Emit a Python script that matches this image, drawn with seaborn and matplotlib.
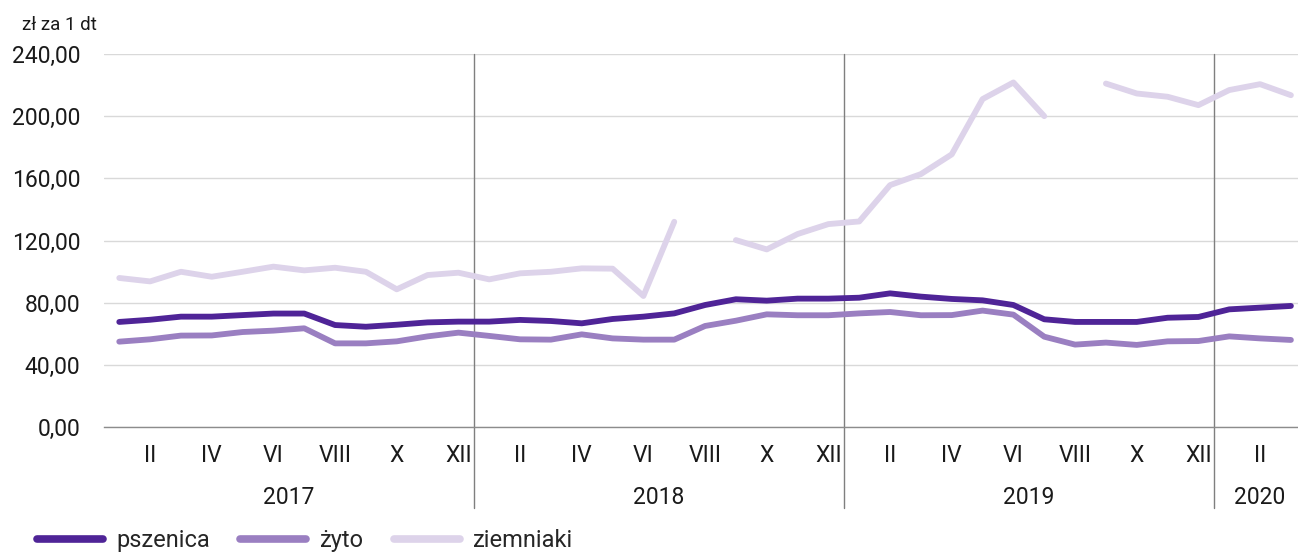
import numpy as np
import pandas as pd
import matplotlib
matplotlib.use('Agg')
import matplotlib.pyplot as plt
import matplotlib.transforms as mtransforms
import seaborn as sns

# Monthly prices, Jan 2017 - Mar 2020 (zł za 1 dt)
years = ['2017', '2018', '2019', '2020']
months_per_year = [12, 12, 12, 3]
roman = ['I', 'II', 'III', 'IV', 'V', 'VI', 'VII', 'VIII', 'IX', 'X', 'XI', 'XII']

pszenica = [67.6, 69.0, 71.0, 71.0, 72.0, 73.0, 73.0, 65.6, 64.5, 65.8, 67.3, 67.8,
            67.8, 68.9, 68.2, 66.7, 69.5, 71.0, 73.1, 78.5, 82.2, 81.3, 82.6, 82.6,
            83.2, 86.0, 83.9, 82.4, 81.5, 78.5, 69.3, 67.6, 67.6, 67.6, 70.3, 70.8,
            75.7, 76.8, 77.9]
zyto = [54.9, 56.4, 58.8, 58.9, 61.1, 62.0, 63.5, 53.8, 53.8, 55.1, 58.3, 60.7,
        58.6, 56.4, 56.2, 59.6, 57.0, 56.2, 56.2, 65.0, 68.4, 72.5, 71.9, 71.9,
        73.1, 74.0, 71.9, 72.0, 74.9, 72.3, 58.1, 53.0, 54.3, 52.8, 55.1, 55.3,
        58.3, 57.0, 56.0]
ziemniaki = [95.9, 93.7, 99.9, 96.7, 99.9, 103.2, 100.8, 102.5, 99.9, 88.6, 97.8, 99.3,
             95.0, 98.9, 99.9, 102.1, 101.9, 84.3, 132.1, np.nan, 120.3, 114.3, 124.2, 130.6,
             132.3, 155.7, 162.8, 175.5, 211.1, 221.8, 200.1, np.nan, 221.1, 214.7, 212.6, 207.2,
             216.9, 220.7, 213.6]

series = {'pszenica': pszenica, 'żyto': zyto, 'ziemniaki': ziemniaki}
colors = {'pszenica': '#4f2497', 'żyto': '#9a7fc1', 'ziemniaki': '#ddd3ea'}

n = len(pszenica)

# long-form table; missing months split a series into separate segments
frames = []
for name, vals in series.items():
    v = pd.Series(vals, dtype=float)
    seg = v.isna().cumsum()
    frames.append(pd.DataFrame({'x': np.arange(n), 'value': v, 'series': name,
                                'seg': name + seg.astype(str)}).dropna())
long_df = pd.concat(frames, ignore_index=True)

sns.set_style('white')
plt.rcParams['font.family'] = ['Roboto', 'DejaVu Sans']

fig = plt.figure(figsize=(12.98, 5.53), dpi=100)
ax = fig.add_axes([0.080, 0.228, 0.92, 0.674])

sns.lineplot(data=long_df, x='x', y='value', hue='series', units='seg', estimator=None,
             palette=colors, hue_order=list(series), ax=ax, linewidth=4.2,
             solid_capstyle='round', legend=False)

ax.set_yticks(np.arange(0, 241, 40))
ax.set_yticklabels([f'{v:.2f}'.replace('.', ',') for v in np.arange(0, 241, 40)], fontsize=16.5)
ax.yaxis.grid(True, color='#d9d9d9', linewidth=1)
ax.tick_params(axis='y', length=0, pad=17, labelcolor='#1a1a1a')
ax.set_xlabel('')
ax.set_ylabel('')

for s in ['left', 'right', 'top']:
    ax.spines[s].set_visible(False)
ax.spines['bottom'].set_color('#8c8c8c')
ax.spines['bottom'].set_linewidth(1)

# month labels (every second month) and boundary ticks
pos, labs = [], []
i = 0
for yr, m in zip(years, months_per_year):
    for k in range(m):
        if k % 2 == 1:
            pos.append(i)
            labs.append(roman[k])
        i += 1
ax.set_xticks(pos)
ax.set_xticklabels(labs, fontsize=16.5, color='#1a1a1a')
ax.set_xticks(np.arange(-0.5, n + 0.5), minor=True)
ax.tick_params(axis='x', which='major', length=0, pad=12)
ax.tick_params(axis='x', which='minor', length=6, color='#8c8c8c', width=1, direction='out')

# limits after ticks so set_xticks does not widen them
ax.set_xlim(-0.5, 38.23)
ax.set_ylim(0, 240)

# year separators and year labels
trans = mtransforms.blended_transform_factory(ax.transData, ax.transAxes)
start = 0
for yr, m in zip(years, months_per_year):
    ax.text(start + m / 2 - 0.5, -0.19, yr, transform=trans, ha='center', va='center',
            fontsize=16.5, color='#1a1a1a')
    if start > 0:
        ax.plot([start - 0.5, start - 0.5], [-0.218, 1.0], transform=trans,
                color='#7f7f7f', linewidth=1, clip_on=False, zorder=1)
    start += m

fig.text(0.017, 0.955, 'zł za 1 dt', fontsize=13.5, ha='left', va='center', color='#1a1a1a')

handles = [plt.Line2D([], [], color=colors[k], linewidth=5.5, solid_capstyle='round') for k in series]
fig.legend(handles, list(series), loc='center left', bbox_to_anchor=(0.012, 0.022), ncol=3,
           frameon=False, fontsize=17, handlelength=2.8, handletextpad=0.55, columnspacing=1.3)

fig.savefig('out.png', dpi=100)
